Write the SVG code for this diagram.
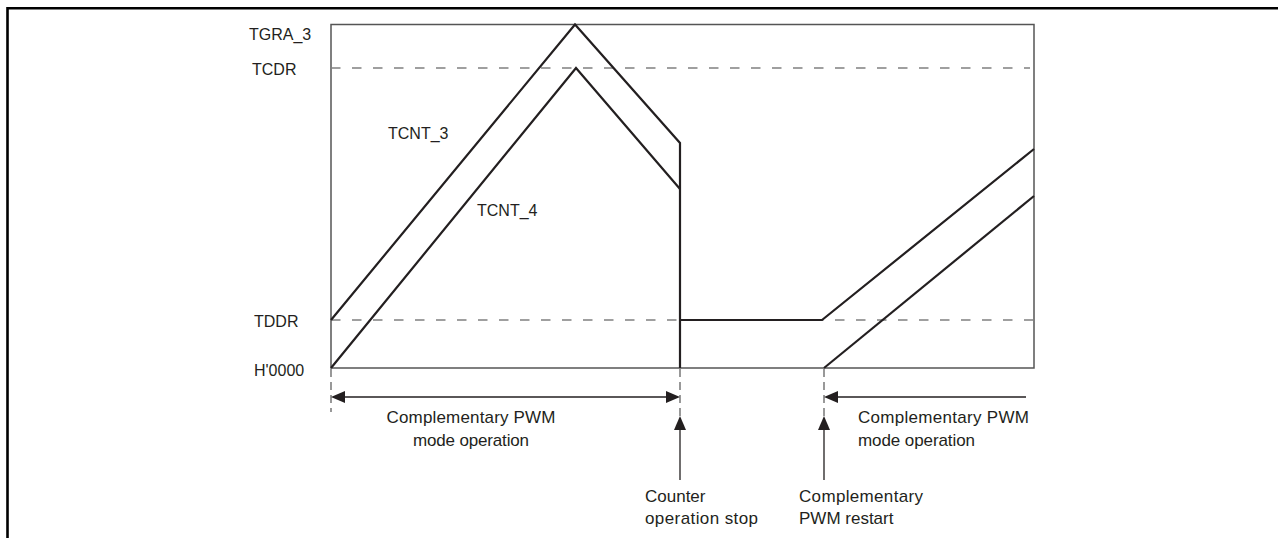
<svg xmlns="http://www.w3.org/2000/svg" width="1278" height="538" viewBox="0 0 1278 538">
<style>
.frame{fill:none;stroke:#000;stroke-width:2.6}
.box{fill:none;stroke:#555;stroke-width:1.5}
.dash{fill:none;stroke:#808080;stroke-width:1.3;stroke-dasharray:9.5 11.5}
.vdash{fill:none;stroke:#555;stroke-width:1.2;stroke-dasharray:8 5}
.wave{fill:none;stroke:#231f20;stroke-width:2.2;stroke-linejoin:miter}
.arr{fill:none;stroke:#231f20;stroke-width:1.3}
.ah{fill:#231f20}
text{font-family:"Liberation Sans",Arial,sans-serif;font-size:16px;fill:#231f20}
.note{font-size:17px}
</style>
<g id="frame">
<path class="frame" d="M7.5 538 V8.3 H1278"/>
</g>
<g id="plot">
<rect class="box" x="331" y="24.5" width="703" height="343.5"/>
<line class="dash" x1="331" y1="68" x2="1030" y2="68"/>
<line class="dash" x1="331" y1="320" x2="1034" y2="320"/>
</g>
<g id="axis-labels">
<text x="249" y="40">TGRA_3</text>
<text x="252" y="75">TCDR</text>
<text x="254" y="327">TDDR</text>
<text x="254" y="376">H'0000</text>
</g>
<g id="tcnt3">
<polyline class="wave" points="331,320 575,24.5 680,143 680,368"/>
<polyline class="wave" points="680,320 822,320 1034,149"/>
<text x="388" y="139">TCNT_3</text>
</g>
<g id="tcnt4">
<polyline class="wave" points="331,368 576,68 680,189"/>
<polyline class="wave" points="824,368 1034,196"/>
<text x="477" y="216">TCNT_4</text>
</g>
<g id="connectors">
<line class="vdash" x1="331" y1="369" x2="331" y2="412"/>
<line class="vdash" x1="680" y1="369" x2="680" y2="416"/>
<line class="vdash" x1="824" y1="369" x2="824" y2="416"/>
<line class="arr" x1="343" y1="397" x2="668" y2="397"/>
<polygon class="ah" points="331,397 345,391 345,403"/>
<polygon class="ah" points="680,397 666,391 666,403"/>
<line class="arr" x1="836" y1="397" x2="1026" y2="397"/>
<polygon class="ah" points="824,397 838,391 838,403"/>
<line class="arr" x1="680" y1="428" x2="680" y2="480"/>
<polygon class="ah" points="680,416 674,430 686,430"/>
<line class="arr" x1="824" y1="428" x2="824" y2="480"/>
<polygon class="ah" points="824,416 818,430 830,430"/>
</g>
<g id="label-left">
<text class="note" x="471" y="423" text-anchor="middle" textLength="169">Complementary PWM</text>
<text class="note" x="471" y="446" text-anchor="middle" textLength="116">mode operation</text>
</g>
<g id="label-right">
<text class="note" x="858" y="423" textLength="171">Complementary PWM</text>
<text class="note" x="858" y="446" textLength="117">mode operation</text>
</g>
<g id="label-stop">
<text class="note" x="645" y="502">Counter</text>
<text class="note" x="645" y="524" textLength="113">operation stop</text>
</g>
<g id="label-restart">
<text class="note" x="799" y="502" textLength="124">Complementary</text>
<text class="note" x="799" y="524">PWM restart</text>
</g>
</svg>
